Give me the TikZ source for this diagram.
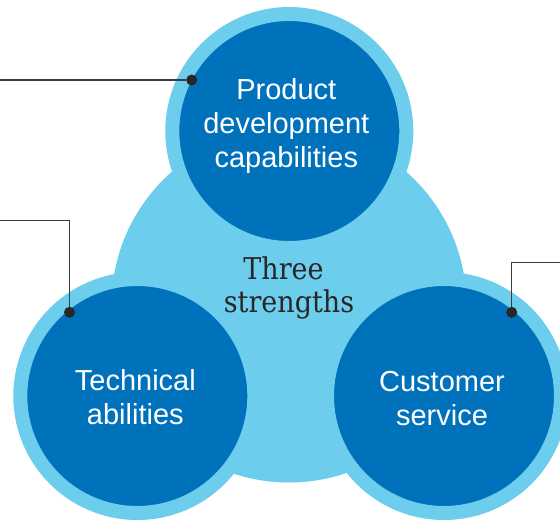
\documentclass[tikz,border=0pt]{standalone}
\usepackage{fontspec}
\newfontfamily\bubblefont{Liberation Sans}
\newfontfamily\titlefont{DejaVu Serif Condensed}

\definecolor{deepblue}{RGB}{0,114,188}
\definecolor{skyblue}{RGB}{108,205,237}
\definecolor{inkgrey}{RGB}{40,38,39}

\begin{document}
\begin{tikzpicture}[x=1pt,y=-1pt]
\tikzset{bubble/.style={circle,fill=deepblue,draw=skyblue,line width=14pt,
    minimum size=234pt,inner sep=0pt}}
\tikzset{bubtext/.style={text=white,align=center,
    font=\bubblefont\fontsize{29}{34}\selectfont}}
\tikzset{pindot/.style={circle,fill=inkgrey,minimum size=11pt,inner sep=0pt}}
\tikzset{leader/.style={draw=inkgrey!90,line width=1.3pt}}

\useasboundingbox (0,0) rectangle (560,520);

% light backdrop under the three circles
\fill[skyblue] (289,305) circle [radius=177.5pt];

\node[bubble] (product) at (289.3,131) {};
\node[bubble] (technical) at (137.3,396) {};
\node[bubble] (customer) at (444,396) {};

\node[bubtext] (producttxt) at ([xshift=-3pt,yshift=5.4pt]product.center) {Product\\development\\capabilities};
\node[bubtext] (technicaltxt) at ([xshift=-2pt,yshift=-0.8pt]technical.center) {Technical\\abilities};
\node[bubtext] (customertxt) at ([xshift=-2pt,yshift=-2.3pt]customer.center) {Customer\\service};

\node[text=inkgrey,align=center,font=\titlefont\fontsize{30}{33}\selectfont] (three) at (289,288) {Three\rule{11pt}{0pt}\\strengths};

% leader lines with their dots
\node[pindot] (dot1) at (191.7,80) {};
\node[pindot] (dot2) at (69.5,312.3) {};
\node[pindot] (dot3) at (511.7,312.3) {};
\coordinate (end1) at (0,80);
\coordinate (end2) at (0,220.7);
\coordinate (end3) at (560,262.7);

\draw[leader] (end1) -- (dot1);
\draw[leader] (end2) -| (dot2);
\draw[leader] (end3) -| (dot3);

\end{tikzpicture}
\end{document}
